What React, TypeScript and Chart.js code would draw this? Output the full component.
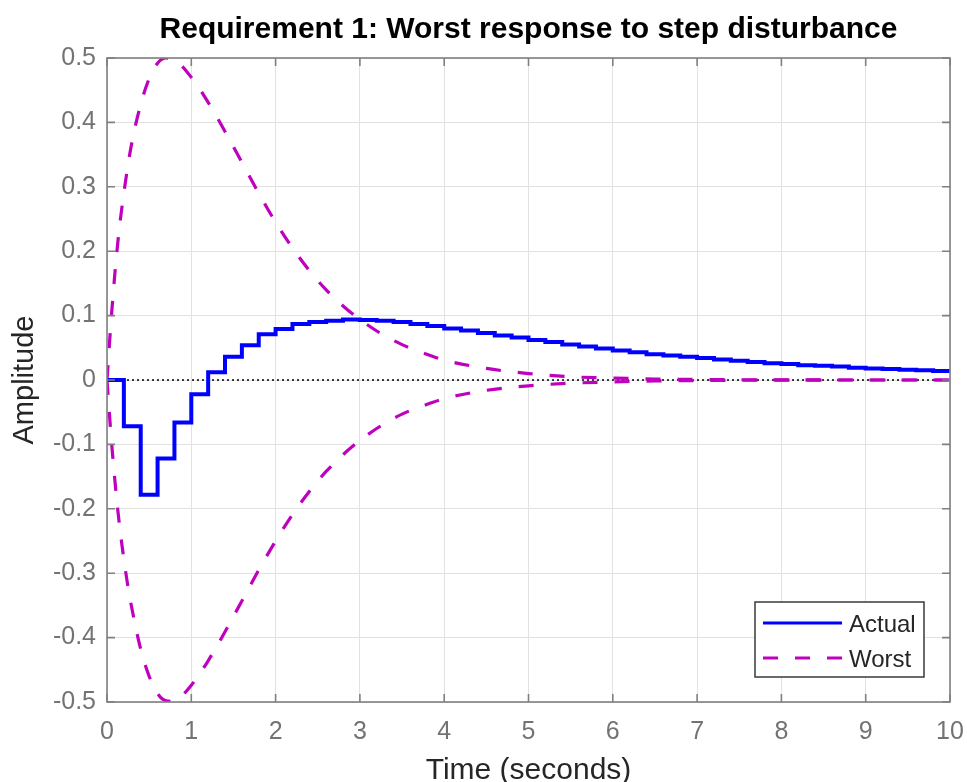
import React, { useEffect, useRef } from 'react';
import { Chart, registerables } from 'chart.js';

Chart.register(...registerables);

// ---------- data ----------
const stepTime = [
  0, 0.2, 0.4, 0.6, 0.8, 1.0, 1.2, 1.4, 1.6, 1.8,
  2.0, 2.2, 2.4, 2.6, 2.8, 3.0, 3.2, 3.4, 3.6, 3.8,
  4.0, 4.2, 4.4, 4.6, 4.8, 5.0, 5.2, 5.4, 5.6, 5.8,
  6.0, 6.2, 6.4, 6.6, 6.8, 7.0, 7.2, 7.4, 7.6, 7.8,
  8.0, 8.2, 8.4, 8.6, 8.8, 9.0, 9.2, 9.4, 9.6, 9.8, 10.0,
];
const actualValues = [
  0, -0.072, -0.178, -0.122, -0.066, -0.022, 0.012, 0.036, 0.054, 0.071,
  0.079, 0.087, 0.09, 0.092, 0.094, 0.093, 0.092, 0.09, 0.087, 0.084,
  0.08, 0.077, 0.073, 0.069, 0.066, 0.062, 0.059, 0.055, 0.052, 0.049,
  0.046, 0.043, 0.04, 0.038, 0.036, 0.034, 0.032, 0.03, 0.028, 0.026,
  0.025, 0.023, 0.022, 0.021, 0.019, 0.018, 0.017, 0.016, 0.015, 0.014, 0.013,
];
const worstTime = [
  0, 0.05, 0.1, 0.15, 0.2, 0.25, 0.3, 0.4, 0.5, 0.6,
  0.7, 0.8, 0.9, 1.0, 1.1, 1.2, 1.3, 1.4, 1.5, 1.6,
  1.8, 2.0, 2.2, 2.4, 2.6, 2.8, 3.0, 3.25, 3.5, 3.75,
  4.0, 4.5, 5.0, 5.5, 6.0, 6.5, 7.0, 8.0, 9.0, 10.0,
];
const worstUpper = [
  0, 0.095, 0.175, 0.24, 0.29, 0.335, 0.372, 0.428, 0.468, 0.492,
  0.5, 0.497, 0.486, 0.47, 0.452, 0.431, 0.409, 0.386, 0.362, 0.338,
  0.29, 0.245, 0.205, 0.17, 0.14, 0.115, 0.094, 0.072, 0.055, 0.042,
  0.031, 0.018, 0.01, 0.005, 0.003, 0.0015, 0.0008, 0.0002, 0, 0,
];
const worstLower = [
  0, -0.09, -0.165, -0.228, -0.278, -0.322, -0.358, -0.418, -0.46, -0.487,
  -0.498, -0.499, -0.489, -0.474, -0.456, -0.436, -0.414, -0.391, -0.367, -0.343,
  -0.295, -0.25, -0.209, -0.173, -0.142, -0.116, -0.094, -0.071, -0.053, -0.04,
  -0.029, -0.016, -0.009, -0.005, -0.003, -0.0015, -0.0008, -0.0002, 0, 0,
];
const zeroLineX = [0, 10];
const zeroLineY = [0, 0];
const xTickValues = [0, 1, 2, 3, 4, 5, 6, 7, 8, 9, 10];
const xTickLabels = ['0', '1', '2', '3', '4', '5', '6', '7', '8', '9', '10'];
const yTickValues = [-0.5, -0.4, -0.3, -0.2, -0.1, 0, 0.1, 0.2, 0.3, 0.4, 0.5];
const yTickLabels = ['-0.5', '-0.4', '-0.3', '-0.2', '-0.1', '0', '0.1', '0.2', '0.3', '0.4', '0.5'];
const legendLabels = ['Actual', 'Worst'];
const titleText = 'Requirement 1: Worst response to step disturbance';
const xTitle = 'Time (seconds)';
const yTitle = 'Amplitude';

// ---------- styles ----------
const FONT = '"Liberation Sans", Arial, Helvetica, sans-serif';
const BLUE = '#0000ff';
const MAGENTA = '#bf00bf';
const FRAME = '#808080';
const TICK_TEXT = '#737373';
const LABEL_TEXT = '#262626';
const DASH = [15, 17];

const toPoints = (xs: number[], ys: number[]) => xs.map((x, i) => ({ x, y: ys[i] }));

const framePlugin = {
  id: 'matlabFrame',
  afterDraw(chart: any) {
    const { ctx, chartArea, scales } = chart;
    const { left, top, right, bottom } = chartArea;
    ctx.save();
    // frame
    ctx.strokeStyle = FRAME;
    ctx.lineWidth = 1.6;
    ctx.setLineDash([]);
    ctx.strokeRect(left, top, right - left, bottom - top);
    // inward ticks
    const tl = 8;
    ctx.beginPath();
    xTickValues.forEach((v) => {
      const px = scales.x.getPixelForValue(v);
      ctx.moveTo(px, bottom);
      ctx.lineTo(px, bottom - tl);
      ctx.moveTo(px, top);
      ctx.lineTo(px, top + tl);
    });
    yTickValues.forEach((v) => {
      const py = scales.y.getPixelForValue(v);
      ctx.moveTo(left, py);
      ctx.lineTo(left + tl, py);
      ctx.moveTo(right, py);
      ctx.lineTo(right - tl, py);
    });
    ctx.stroke();

    // legend
    const lw = 169;
    const lh = 75;
    const lx = right - 26 - lw;
    const ly = bottom - 25 - lh;
    ctx.fillStyle = '#ffffff';
    ctx.fillRect(lx, ly, lw, lh);
    ctx.strokeStyle = '#3a3a3a';
    ctx.lineWidth = 1.5;
    ctx.strokeRect(lx, ly, lw, lh);
    const rows = [ly + 21, ly + 56];
    const colors = [BLUE, MAGENTA];
    const dashes = [[], DASH];
    rows.forEach((ry, i) => {
      ctx.beginPath();
      ctx.strokeStyle = colors[i];
      ctx.lineWidth = 3;
      ctx.setLineDash(dashes[i]);
      ctx.moveTo(lx + 8, ry);
      ctx.lineTo(lx + 87, ry);
      ctx.stroke();
      ctx.setLineDash([]);
      ctx.fillStyle = LABEL_TEXT;
      ctx.font = `24px ${FONT}`;
      ctx.textBaseline = 'middle';
      ctx.textAlign = 'left';
      ctx.fillText(legendLabels[i], lx + 94, ry + 2);
    });
    ctx.restore();
  },
};

export default function App() {
  const canvasRef = useRef<HTMLCanvasElement | null>(null);

  useEffect(() => {
    if (!canvasRef.current) return;
    const chart = new Chart(canvasRef.current, {
      type: 'line',
      data: {
        datasets: [
          {
            label: legendLabels[0],
            data: toPoints(stepTime, actualValues),
            borderColor: BLUE,
            borderWidth: 4,
            stepped: 'before',
            pointRadius: 0,
            fill: false,
          },
          {
            label: legendLabels[1],
            data: toPoints(worstTime, worstUpper),
            borderColor: MAGENTA,
            borderWidth: 3.2,
            borderDash: DASH,
            cubicInterpolationMode: 'monotone',
            pointRadius: 0,
            fill: false,
          },
          {
            label: legendLabels[1] + ' (lower)',
            data: toPoints(worstTime, worstLower),
            borderColor: MAGENTA,
            borderWidth: 3.2,
            borderDash: DASH,
            cubicInterpolationMode: 'monotone',
            pointRadius: 0,
            fill: false,
          },
          {
            label: 'zero',
            data: toPoints(zeroLineX, zeroLineY),
            borderColor: '#000000',
            borderWidth: 1.5,
            borderDash: [2, 3],
            pointRadius: 0,
            fill: false,
          },
        ],
      } as any,
      options: {
        responsive: false,
        animation: false,
        events: [],
        layout: { padding: { left: 0, right: 17, top: 0, bottom: 0 } },
        plugins: {
          legend: { display: false },
          tooltip: { enabled: false },
          title: {
            display: true,
            text: titleText,
            color: '#000000',
            fullSize: false,
            font: { family: FONT, size: 30, weight: 'bold', lineHeight: 1.2 },
            padding: { top: 12, bottom: 10 },
          },
        },
        scales: {
          x: {
            type: 'linear',
            min: 0,
            max: 10,
            afterBuildTicks: (axis: any) => {
              axis.ticks = xTickValues.map((v) => ({ value: v }));
            },
            afterFit: (scale: any) => {
              scale.height = 80;
              scale.paddingLeft = 0;
              scale.paddingRight = 0;
            },
            ticks: {
              autoSkip: false,
              maxRotation: 0,
              padding: 15,
              color: TICK_TEXT,
              font: { family: FONT, size: 25 },
              callback: (v: any) => xTickLabels[xTickValues.indexOf(Number(v))] ?? '',
            },
            grid: { color: '#e2e2e2', lineWidth: 1, drawTicks: false },
            border: { display: false },
            title: {
              display: true,
              text: xTitle,
              color: LABEL_TEXT,
              font: { family: FONT, size: 30, lineHeight: 0.75 },
              padding: { top: 0, bottom: 0 },
            },
          },
          y: {
            type: 'linear',
            min: -0.5,
            max: 0.5,
            afterBuildTicks: (axis: any) => {
              axis.ticks = yTickValues.map((v) => ({ value: v }));
            },
            afterFit: (scale: any) => {
              scale.width = 107;
              scale.paddingTop = 0;
              scale.paddingBottom = 0;
            },
            ticks: {
              autoSkip: false,
              padding: 11,
              color: TICK_TEXT,
              font: { family: FONT, size: 25 },
              callback: (v: any) => {
                const idx = yTickValues.findIndex((t) => Math.abs(t - Number(v)) < 1e-9);
                return idx >= 0 ? yTickLabels[idx] : '';
              },
            },
            grid: { color: '#e2e2e2', lineWidth: 1, drawTicks: false },
            border: { display: false },
            title: {
              display: true,
              text: yTitle,
              color: LABEL_TEXT,
              font: { family: FONT, size: 29, lineHeight: 1 },
              padding: { top: 10, bottom: 0 },
            },
          },
        },
      } as any,
      plugins: [framePlugin],
    });
    return () => chart.destroy();
  }, []);

  return (
    <div style={{ position: 'fixed', left: 0, top: 0, width: 967, height: 782, background: '#ffffff' }}>
      <canvas ref={canvasRef} width={967} height={782} style={{ display: 'block' }} />
    </div>
  );
}
